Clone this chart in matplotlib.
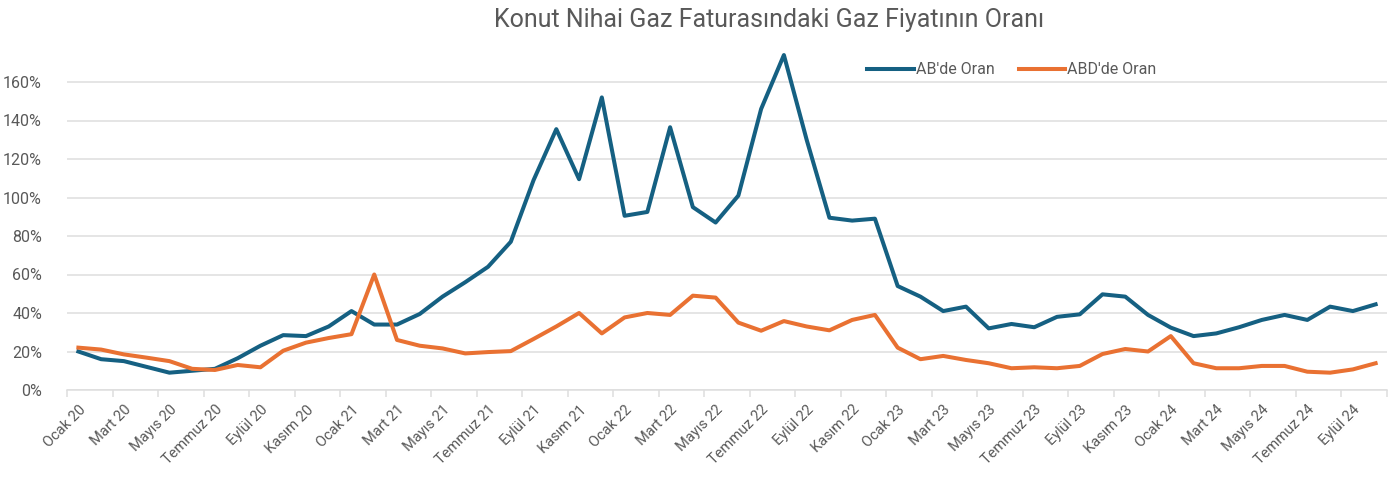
import numpy as np
import matplotlib
matplotlib.use("Agg")
import matplotlib.pyplot as plt
from matplotlib.ticker import FuncFormatter, FixedLocator

plt.rcParams['font.family'] = ['Roboto', 'DejaVu Sans']

# monthly categories Ocak 20 .. Ekim 24
month_names = ['Ocak', 'Şubat', 'Mart', 'Nisan', 'Mayıs', 'Haziran',
               'Temmuz', 'Ağustos', 'Eylül', 'Ekim', 'Kasım', 'Aralık']
years = ['20', '21', '22', '23', '24']
months = [f"{m} {y}" for y in years for m in month_names][:58]

# AB'de Oran (EU) - share of gas price in residential final gas bill
ab = [0.20, 0.16, 0.15, 0.12, 0.09, 0.10, 0.11, 0.165, 0.23, 0.285,
      0.28, 0.33, 0.41, 0.34, 0.34, 0.395, 0.485, 0.56, 0.64, 0.77,
      1.09, 1.355, 1.095, 1.52, 0.905, 0.925, 1.365, 0.95, 0.87, 1.01,
      1.46, 1.74, 1.30, 0.895, 0.88, 0.89, 0.54, 0.485, 0.41, 0.433,
      0.32, 0.343, 0.326, 0.38, 0.393, 0.497, 0.485, 0.39, 0.324, 0.28,
      0.294, 0.326, 0.364, 0.39, 0.364, 0.433, 0.41, 0.445]

# ABD'de Oran (US)
abd = [0.22, 0.21, 0.185, 0.168, 0.15, 0.11, 0.104, 0.13, 0.118, 0.204,
       0.246, 0.27, 0.29, 0.60, 0.26, 0.23, 0.216, 0.19, 0.197, 0.202,
       0.265, 0.33, 0.40, 0.294, 0.377, 0.40, 0.39, 0.49, 0.48, 0.35,
       0.308, 0.358, 0.33, 0.31, 0.364, 0.39, 0.22, 0.16, 0.177, 0.156,
       0.139, 0.113, 0.118, 0.113, 0.125, 0.187, 0.213, 0.20, 0.28, 0.139,
       0.113, 0.113, 0.125, 0.125, 0.095, 0.09, 0.107, 0.139]

blue = '#156082'
orange = '#E97132'
grid_c = '#DEDEDE'
text_c = '#595959'

fig = plt.figure(figsize=(14, 4.82), dpi=100)
ax = fig.add_axes([67/1400, 1 - 390/482, 1320/1400, (390 - 43.5)/482])

x = np.arange(len(months))
ax.plot(x, ab, color=blue, lw=2.9, solid_joinstyle='round', label="AB'de Oran", zorder=3)
ax.plot(x, abd, color=orange, lw=2.9, solid_joinstyle='round', label="ABD'de Oran", zorder=3)

ax.set_xlim(-0.5, len(months) - 0.5)
ax.set_ylim(0, 1.8)
ax.set_yticks(np.arange(0, 1.61, 0.2))
ax.yaxis.set_major_formatter(FuncFormatter(lambda v, p: f"{v*100:.0f}%"))
ax.yaxis.grid(True, color=grid_c, lw=1.1)
ax.set_axisbelow(True)

# labels every second month, tick marks on category boundaries
ax.set_xticks(x[::2])
ax.set_xticklabels(months[::2], rotation=45, ha='right', rotation_mode='anchor',
                   fontsize=10.5, color=text_c)
ax.xaxis.set_minor_locator(FixedLocator(np.arange(-0.5, len(months), 2)))
ax.tick_params(axis='x', which='major', length=0, pad=9)
ax.tick_params(axis='x', which='minor', length=5, color=grid_c, width=1.1)
ax.tick_params(axis='y', length=0, labelsize=11.5, labelcolor=text_c, pad=18)

for s in ['top', 'right', 'left']:
    ax.spines[s].set_visible(False)
ax.spines['bottom'].set_color(grid_c)
ax.spines['bottom'].set_linewidth(1.1)

fig.text(769/1400, 1 - 20/482, 'Konut Nihai Gaz Faturasındaki Gaz Fiyatının Oranı',
         ha='center', va='center', fontsize=18, color=text_c)

ax.legend(loc='center', bbox_to_anchor=((1012 - 67)/1320, (390 - 70)/346.5),
          ncol=2, frameon=False, fontsize=11.5, labelcolor=text_c,
          handlelength=2.9, handletextpad=0.15, columnspacing=1.5)

fig.savefig('out.png', dpi=100)
